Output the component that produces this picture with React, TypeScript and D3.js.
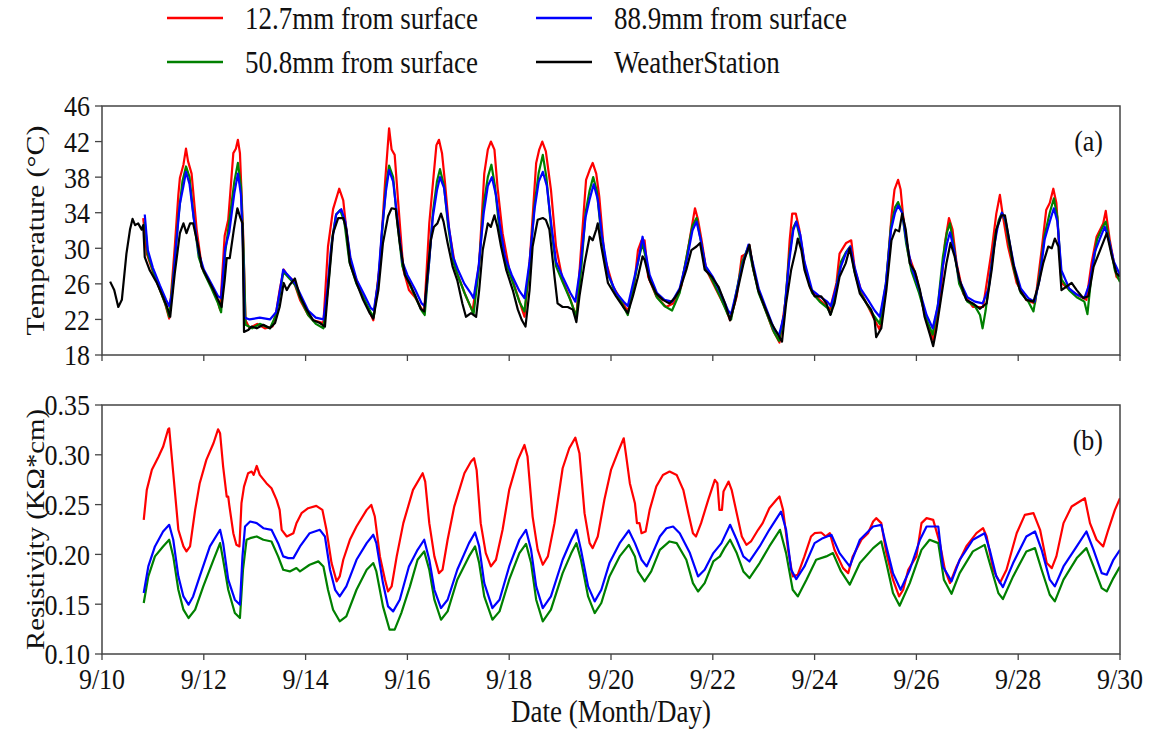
import React, { useEffect, useRef } from "react";
import * as d3 from "d3";

// day offsets from 9/10 00:00, values
const tempRed: [number, number][] = [
  [0.81,33.4],[0.88,29.4],[1.01,27.2],[1.14,25.3],[1.24,23.8],[1.32,22.1],[1.43,30.2],[1.5,36.0],[1.53,37.9],[1.6,39.4],[1.65,41.2],[1.69,39.8],[1.76,38.4],[1.86,32.1],[1.96,27.9],[2.12,26.1],[2.25,24.6],[2.32,23.1],[2.41,31.4],[2.48,33.2],[2.58,40.7],[2.63,41.2],[2.67,42.2],[2.71,40.7],[2.77,32.1],[2.82,21.9],[2.9,21.0],[3.05,21.5],[3.2,21.0],[3.35,21.2],[3.43,23.1],[3.49,25.3],[3.57,27.6],[3.66,26.8],[3.76,26.4],[3.89,24.2],[4.05,22.5],[4.15,21.9],[4.35,21.6],[4.44,30.2],[4.54,34.4],[4.66,36.7],[4.74,35.4],[4.8,32.1],[4.9,27.9],[5.13,24.6],[5.33,21.9],[5.46,28.3],[5.56,37.3],[5.64,43.5],[5.69,41.1],[5.75,40.5],[5.82,35.1],[5.92,27.6],[6.03,25.3],[6.15,24.5],[6.26,23.4],[6.33,22.7],[6.43,32.8],[6.49,36.6],[6.57,41.6],[6.62,42.2],[6.68,40.7],[6.74,37.3],[6.82,32.1],[6.95,27.6],[7.15,24.6],[7.28,22.9],[7.41,28.3],[7.51,38.4],[7.58,41.1],[7.64,42.0],[7.71,41.1],[7.77,36.9],[7.87,31.7],[8.0,27.6],[8.17,24.6],[8.3,22.3],[8.4,28.3],[8.53,39.6],[8.59,41.1],[8.65,42.0],[8.72,40.9],[8.82,36.6],[8.92,30.2],[9.05,26.4],[9.18,24.6],[9.32,22.3],[9.41,29.8],[9.51,37.7],[9.58,38.8],[9.64,39.6],[9.71,38.4],[9.77,35.8],[9.87,29.1],[10.04,25.7],[10.24,23.8],[10.33,22.9],[10.46,26.1],[10.53,29.8],[10.6,30.9],[10.66,30.9],[10.73,26.8],[10.89,24.6],[11.08,23.4],[11.22,23.8],[11.38,25.7],[11.51,29.8],[11.65,34.5],[11.71,33.2],[11.78,30.9],[11.87,27.6],[12.07,25.3],[12.24,23.4],[12.34,21.9],[12.47,24.6],[12.57,29.1],[12.66,29.4],[12.72,30.3],[12.8,27.5],[12.92,24.9],[13.18,20.8],[13.31,19.4],[13.44,24.6],[13.51,30.9],[13.56,33.9],[13.63,33.9],[13.7,32.1],[13.8,28.3],[13.93,25.3],[14.1,24.2],[14.3,23.1],[14.43,26.1],[14.49,29.4],[14.62,30.6],[14.72,30.9],[14.79,27.6],[14.95,24.6],[15.15,22.3],[15.28,20.8],[15.41,26.1],[15.51,33.6],[15.57,36.6],[15.64,37.7],[15.69,36.6],[15.74,33.6],[15.84,29.4],[16.0,26.8],[16.16,22.7],[16.33,19.7],[16.46,23.8],[16.56,30.6],[16.64,33.4],[16.71,32.1],[16.79,28.3],[16.92,24.9],[17.11,23.4],[17.31,23.4],[17.48,29.8],[17.57,33.9],[17.64,36.0],[17.7,33.6],[17.8,30.2],[17.97,26.1],[18.16,24.2],[18.33,23.8],[18.46,29.8],[18.55,34.3],[18.62,35.1],[18.69,36.7],[18.75,35.1],[18.85,26.1],[19.02,25.3],[19.21,24.6],[19.34,24.2],[19.44,28.3],[19.54,31.3],[19.67,32.8],[19.72,34.2],[19.8,30.9],[19.93,26.8],[20.0,26.4]
];

const tempGreen: [number, number][] = [
  [0.84,33.0],[0.9,29.3],[1.0,27.5],[1.14,25.3],[1.26,23.5],[1.32,22.3],[1.42,28.0],[1.5,33.5],[1.58,37.5],[1.65,39.2],[1.72,38.0],[1.8,33.5],[1.9,29.0],[2.0,27.3],[2.15,25.5],[2.28,23.8],[2.34,22.8],[2.42,29.5],[2.5,33.0],[2.6,37.5],[2.67,39.6],[2.73,37.0],[2.78,30.0],[2.82,21.4],[2.95,21.0],[3.1,21.5],[3.3,21.0],[3.42,22.5],[3.5,25.0],[3.56,27.3],[3.62,27.0],[3.7,26.5],[3.8,25.8],[3.9,24.3],[4.05,22.5],[4.2,21.5],[4.35,21.0],[4.44,25.5],[4.52,31.0],[4.6,33.8],[4.68,34.3],[4.76,33.0],[4.86,28.5],[5.0,26.0],[5.15,24.3],[5.28,22.8],[5.34,22.3],[5.44,27.0],[5.52,33.0],[5.58,37.0],[5.64,39.3],[5.72,38.0],[5.8,33.0],[5.9,28.0],[6.0,26.5],[6.15,24.6],[6.28,23.0],[6.34,22.5],[6.42,28.0],[6.5,34.0],[6.58,37.5],[6.64,38.9],[6.72,37.0],[6.8,32.5],[6.9,28.5],[7.0,26.8],[7.12,25.0],[7.25,23.3],[7.3,22.6],[7.4,27.5],[7.5,35.0],[7.58,38.0],[7.65,39.4],[7.72,37.0],[7.8,32.5],[7.92,28.5],[8.05,26.5],[8.2,24.0],[8.3,22.9],[8.4,28.0],[8.5,35.0],[8.58,38.5],[8.66,40.5],[8.73,38.0],[8.82,32.5],[8.92,28.0],[9.05,26.2],[9.2,24.2],[9.32,22.3],[9.42,28.0],[9.5,34.0],[9.58,36.5],[9.65,38.0],[9.72,36.5],[9.8,32.0],[9.92,27.5],[10.05,25.5],[10.2,24.0],[10.33,22.5],[10.45,26.0],[10.55,29.0],[10.62,30.5],[10.68,29.0],[10.76,26.5],[10.9,24.5],[11.05,23.5],[11.2,23.0],[11.35,25.0],[11.5,29.5],[11.6,32.5],[11.68,33.4],[11.76,31.0],[11.86,27.8],[12.0,26.3],[12.15,24.5],[12.3,22.5],[12.36,22.0],[12.46,25.0],[12.58,28.5],[12.7,30.2],[12.78,28.0],[12.9,25.0],[13.05,22.8],[13.2,20.6],[13.3,19.6],[13.4,22.5],[13.5,29.0],[13.58,32.3],[13.64,33.0],[13.72,31.0],[13.8,28.0],[13.95,25.0],[14.1,24.0],[14.25,23.3],[14.32,22.6],[14.42,25.5],[14.52,28.5],[14.62,29.6],[14.7,30.2],[14.78,27.5],[14.9,25.0],[15.05,23.5],[15.18,22.3],[15.28,21.5],[15.4,26.0],[15.5,32.5],[15.58,34.6],[15.64,35.2],[15.72,34.0],[15.8,30.5],[15.9,27.5],[16.05,25.0],[16.2,22.0],[16.32,20.3],[16.42,23.5],[16.52,29.0],[16.6,31.8],[16.66,32.8],[16.74,30.0],[16.84,26.0],[17.0,24.0],[17.15,23.5],[17.25,22.5],[17.3,21.0],[17.36,23.0],[17.45,27.0],[17.55,31.5],[17.62,33.2],[17.68,34.0],[17.75,33.0],[17.82,30.5],[17.92,27.5],[18.05,25.0],[18.2,24.0],[18.3,22.9],[18.42,27.0],[18.52,31.5],[18.62,34.0],[18.7,35.6],[18.77,33.5],[18.85,26.5],[19.0,25.3],[19.15,24.5],[19.3,24.0],[19.36,22.6],[19.44,27.0],[19.55,31.0],[19.65,32.3],[19.72,33.0],[19.8,30.5],[19.9,27.5],[20.0,26.2]
];

const tempBlue: [number, number][] = [
  [0.84,33.8],[0.9,29.8],[1.0,27.8],[1.14,25.8],[1.26,24.2],[1.32,23.5],[1.38,25.0],[1.45,30.0],[1.53,35.0],[1.6,37.0],[1.65,38.6],[1.72,37.2],[1.8,33.5],[1.9,29.5],[2.0,27.6],[2.15,26.0],[2.28,24.6],[2.34,24.4],[2.42,30.0],[2.5,31.8],[2.6,36.2],[2.67,38.4],[2.73,36.0],[2.77,30.0],[2.8,22.2],[2.9,22.0],[3.1,22.2],[3.3,22.0],[3.42,22.8],[3.5,25.4],[3.56,27.6],[3.62,27.2],[3.7,26.7],[3.8,26.0],[3.9,24.8],[4.05,23.0],[4.2,22.2],[4.35,22.0],[4.42,25.0],[4.5,30.0],[4.6,33.8],[4.7,34.4],[4.78,33.0],[4.88,29.0],[5.0,26.5],[5.15,24.8],[5.28,23.3],[5.34,23.0],[5.42,26.0],[5.5,32.0],[5.58,36.5],[5.64,38.8],[5.72,37.5],[5.8,33.5],[5.9,28.5],[6.0,27.0],[6.15,25.4],[6.28,23.8],[6.34,23.5],[6.42,28.0],[6.5,33.5],[6.58,36.5],[6.64,38.0],[6.72,36.8],[6.8,33.0],[6.9,29.0],[7.0,27.5],[7.12,26.0],[7.25,24.9],[7.3,24.4],[7.4,28.0],[7.5,34.0],[7.58,37.0],[7.66,38.0],[7.74,36.0],[7.82,32.5],[7.92,29.0],[8.05,27.0],[8.2,25.2],[8.3,24.4],[8.4,28.5],[8.5,34.5],[8.58,37.5],[8.66,38.6],[8.74,37.0],[8.82,33.0],[8.92,28.5],[9.05,26.8],[9.2,25.0],[9.3,24.0],[9.4,28.0],[9.5,33.5],[9.58,35.5],[9.66,37.2],[9.74,35.5],[9.82,31.5],[9.95,27.0],[10.1,25.0],[10.25,24.0],[10.33,23.5],[10.45,26.5],[10.55,29.0],[10.62,31.3],[10.68,29.5],[10.76,27.0],[10.9,25.0],[11.05,24.2],[11.2,24.0],[11.35,25.5],[11.5,29.0],[11.6,32.0],[11.68,33.0],[11.76,31.0],[11.86,28.0],[12.0,26.8],[12.15,25.0],[12.3,23.0],[12.36,22.6],[12.46,25.0],[12.58,28.0],[12.7,30.4],[12.78,28.5],[12.9,25.5],[13.05,23.2],[13.2,21.0],[13.3,20.2],[13.4,22.5],[13.5,28.5],[13.58,32.0],[13.64,33.0],[13.72,31.5],[13.8,28.5],[13.95,25.3],[14.1,24.6],[14.25,24.0],[14.32,23.5],[14.42,25.5],[14.52,28.0],[14.62,29.5],[14.7,30.2],[14.78,28.0],[14.9,25.5],[15.05,24.2],[15.18,23.0],[15.28,22.3],[15.4,26.0],[15.5,32.0],[15.58,34.0],[15.64,34.8],[15.72,34.0],[15.8,31.0],[15.9,28.0],[16.05,25.5],[16.2,22.5],[16.32,21.0],[16.42,23.5],[16.52,28.0],[16.6,30.5],[16.66,31.8],[16.74,29.8],[16.84,26.5],[17.0,24.5],[17.15,24.0],[17.3,23.8],[17.42,25.5],[17.52,30.0],[17.6,32.5],[17.68,34.0],[17.75,33.2],[17.82,31.0],[17.92,28.0],[18.05,25.5],[18.2,24.4],[18.32,24.0],[18.42,26.5],[18.52,31.0],[18.62,33.0],[18.7,34.5],[18.77,33.0],[18.85,27.5],[19.0,25.5],[19.15,24.8],[19.3,24.4],[19.4,26.0],[19.5,29.5],[19.6,31.0],[19.7,32.4],[19.78,31.0],[19.88,28.5],[20.0,27.0]
];

const tempWeather: [number, number][] = [
  [0.16,26.25],[0.24,25.3],[0.32,23.4],[0.39,24.2],[0.48,29.4],[0.55,32.1],[0.6,33.3],[0.65,32.6],[0.71,32.8],[0.78,32.1],[0.81,32.6],[0.84,29.0],[0.94,27.5],[1.07,26.2],[1.17,24.9],[1.28,23.4],[1.34,22.3],[1.43,27.2],[1.53,31.7],[1.6,32.8],[1.66,31.7],[1.73,32.8],[1.79,32.8],[1.89,30.2],[1.96,27.9],[2.09,26.4],[2.19,25.3],[2.28,24.2],[2.35,23.4],[2.41,26.4],[2.45,28.9],[2.51,28.9],[2.59,32.1],[2.66,34.5],[2.72,33.4],[2.76,32.8],[2.79,20.6],[2.87,20.8],[2.94,21.2],[3.04,21.0],[3.17,21.4],[3.3,21.0],[3.4,21.6],[3.49,23.4],[3.57,26.1],[3.63,25.3],[3.69,25.9],[3.79,26.6],[3.89,24.6],[4.02,23.1],[4.15,21.9],[4.28,21.6],[4.38,21.2],[4.44,25.3],[4.54,31.7],[4.64,33.4],[4.74,33.4],[4.8,32.1],[4.87,28.3],[5.0,26.1],[5.13,24.2],[5.26,22.7],[5.33,22.1],[5.43,25.3],[5.52,30.6],[5.62,33.6],[5.69,34.5],[5.77,34.4],[5.85,30.6],[5.95,27.0],[6.05,26.0],[6.16,24.6],[6.26,23.2],[6.33,22.9],[6.39,26.8],[6.46,30.9],[6.52,32.4],[6.59,32.8],[6.66,33.9],[6.71,33.0],[6.79,30.6],[6.89,27.9],[6.98,26.4],[7.08,23.8],[7.15,22.3],[7.25,22.7],[7.35,22.3],[7.41,25.3],[7.48,29.8],[7.58,32.8],[7.64,32.4],[7.71,33.7],[7.77,32.4],[7.84,30.2],[7.94,27.6],[8.07,25.3],[8.17,23.1],[8.25,21.9],[8.32,21.2],[8.4,25.3],[8.46,30.2],[8.56,33.2],[8.66,33.4],[8.72,33.2],[8.79,32.1],[8.89,26.8],[8.95,23.8],[9.05,23.4],[9.15,23.4],[9.25,23.1],[9.32,21.7],[9.38,24.6],[9.48,28.3],[9.58,31.3],[9.64,30.9],[9.71,32.1],[9.74,32.8],[9.81,30.2],[9.94,26.1],[10.1,24.6],[10.24,23.4],[10.33,22.7],[10.43,24.6],[10.53,26.8],[10.62,29.1],[10.66,28.7],[10.76,26.4],[10.89,24.9],[11.02,24.2],[11.15,23.8],[11.25,24.4],[11.35,25.3],[11.48,27.6],[11.58,29.8],[11.68,30.2],[11.75,30.6],[11.84,27.6],[11.98,26.8],[12.11,25.7],[12.24,23.8],[12.34,21.9],[12.43,23.8],[12.53,26.4],[12.62,28.7],[12.72,30.4],[12.79,27.9],[12.89,25.3],[13.02,23.4],[13.15,21.6],[13.28,20.3],[13.36,19.5],[13.44,23.8],[13.54,27.6],[13.63,29.8],[13.67,31.1],[13.74,29.8],[13.8,27.6],[13.9,25.7],[14.0,24.6],[14.13,24.6],[14.23,23.8],[14.31,22.5],[14.39,23.8],[14.49,26.8],[14.61,28.3],[14.69,30.0],[14.79,27.2],[14.89,24.9],[15.02,23.8],[15.11,23.1],[15.18,21.9],[15.21,20.0],[15.31,21.0],[15.41,25.3],[15.51,30.9],[15.59,32.1],[15.66,31.9],[15.72,33.9],[15.79,32.1],[15.87,28.3],[15.97,27.4],[16.07,25.3],[16.16,22.3],[16.26,20.4],[16.33,19.0],[16.39,20.8],[16.49,24.6],[16.59,28.3],[16.67,30.6],[16.75,29.1],[16.85,26.4],[16.98,24.2],[17.11,23.8],[17.25,23.2],[17.38,23.8],[17.48,27.6],[17.57,32.1],[17.67,33.7],[17.74,33.7],[17.8,31.7],[17.9,28.3],[18.03,25.3],[18.16,24.2],[18.3,24.0],[18.39,25.7],[18.49,28.3],[18.59,30.2],[18.66,30.0],[18.72,31.1],[18.79,30.2],[18.85,25.3],[18.95,25.7],[19.05,26.1],[19.15,25.3],[19.28,24.4],[19.38,24.6],[19.48,27.9],[19.61,29.8],[19.74,31.7],[19.84,29.1],[19.93,27.2],[20.0,26.8]
];

const resRed: [number, number][] = [
  [0.82,0.2347],[0.88,0.2648],[0.98,0.285],[1.11,0.298],[1.2,0.308],[1.3,0.3256],[1.32,0.3266],[1.4,0.2815],[1.5,0.2247],[1.6,0.208],[1.66,0.203],[1.73,0.208],[1.83,0.2447],[1.92,0.2715],[2.05,0.2949],[2.19,0.3116],[2.28,0.3256],[2.32,0.3216],[2.38,0.2882],[2.45,0.2581],[2.48,0.2581],[2.5,0.2497],[2.58,0.2213],[2.64,0.2096],[2.7,0.208],[2.74,0.2514],[2.79,0.2681],[2.87,0.2815],[2.94,0.2832],[2.98,0.2798],[3.04,0.2888],[3.1,0.2798],[3.23,0.2715],[3.33,0.2664],[3.43,0.2548],[3.49,0.2447],[3.53,0.2247],[3.63,0.218],[3.76,0.2213],[3.82,0.2313],[3.92,0.2414],[4.05,0.2464],[4.21,0.2487],[4.33,0.2447],[4.41,0.2247],[4.51,0.1913],[4.61,0.1729],[4.67,0.1779],[4.74,0.1946],[4.87,0.2146],[5.0,0.228],[5.2,0.2447],[5.29,0.2497],[5.36,0.238],[5.46,0.198],[5.56,0.1745],[5.62,0.1628],[5.69,0.1678],[5.79,0.198],[5.92,0.2314],[6.11,0.2648],[6.3,0.2815],[6.35,0.2731],[6.43,0.2314],[6.53,0.198],[6.62,0.1812],[6.69,0.1846],[6.79,0.2147],[6.92,0.248],[7.12,0.2815],[7.25,0.2932],[7.31,0.2965],[7.36,0.2848],[7.44,0.2314],[7.54,0.2013],[7.64,0.1879],[7.74,0.1946],[7.87,0.2247],[8.0,0.2648],[8.17,0.2949],[8.3,0.3099],[8.36,0.2982],[8.46,0.238],[8.56,0.2046],[8.66,0.1896],[8.76,0.198],[8.89,0.2314],[9.05,0.2865],[9.18,0.3066],[9.3,0.3172],[9.38,0.3016],[9.48,0.2414],[9.58,0.2113],[9.64,0.2063],[9.74,0.218],[9.87,0.2548],[10.0,0.2848],[10.14,0.3032],[10.25,0.3166],[10.3,0.2982],[10.37,0.2715],[10.47,0.2514],[10.51,0.2314],[10.56,0.2314],[10.6,0.2213],[10.68,0.223],[10.76,0.2447],[10.89,0.2681],[11.02,0.2798],[11.15,0.2832],[11.29,0.2798],[11.42,0.2648],[11.52,0.2414],[11.61,0.2213],[11.67,0.218],[11.77,0.2314],[11.91,0.2548],[12.04,0.2748],[12.09,0.2715],[12.13,0.2447],[12.18,0.2447],[12.21,0.2631],[12.31,0.2731],[12.37,0.2648],[12.47,0.2414],[12.57,0.218],[12.66,0.2096],[12.75,0.213],[12.89,0.2247],[12.98,0.2314],[13.11,0.2464],[13.25,0.2548],[13.31,0.2581],[13.38,0.2447],[13.48,0.2046],[13.57,0.1779],[13.67,0.1796],[13.8,0.198],[13.93,0.218],[14.0,0.2213],[14.13,0.222],[14.22,0.218],[14.3,0.2213],[14.39,0.2046],[14.56,0.1862],[14.66,0.1812],[14.75,0.198],[14.92,0.2147],[15.05,0.2213],[15.15,0.233],[15.21,0.2364],[15.31,0.2314],[15.41,0.2013],[15.54,0.1746],[15.66,0.1578],[15.74,0.1645],[15.84,0.1846],[16.0,0.198],[16.1,0.2314],[16.2,0.2364],[16.33,0.2347],[16.46,0.2113],[16.56,0.1846],[16.66,0.1712],[16.79,0.1879],[16.98,0.208],[17.18,0.2213],[17.31,0.2263],[17.38,0.218],[17.51,0.1846],[17.64,0.1712],[17.77,0.1846],[17.97,0.2213],[18.13,0.2397],[18.3,0.2414],[18.43,0.2247],[18.56,0.1913],[18.66,0.1862],[18.75,0.198],[18.89,0.2314],[19.05,0.2481],[19.31,0.2564],[19.41,0.2314],[19.54,0.2147],[19.67,0.208],[19.77,0.2247],[19.9,0.2447],[20.0,0.2564]
];

const resGreen: [number, number][] = [
  [0.82,0.1512],[0.91,0.178],[1.04,0.198],[1.2,0.208],[1.32,0.2147],[1.4,0.198],[1.5,0.1645],[1.6,0.1445],[1.7,0.1361],[1.83,0.1445],[1.99,0.1679],[2.19,0.1946],[2.32,0.2113],[2.38,0.1946],[2.48,0.1645],[2.61,0.1411],[2.71,0.1361],[2.77,0.1846],[2.84,0.2147],[2.91,0.2163],[3.04,0.218],[3.17,0.2147],[3.33,0.213],[3.46,0.198],[3.56,0.1846],[3.69,0.1829],[3.82,0.1863],[3.89,0.1829],[4.08,0.1896],[4.25,0.193],[4.35,0.1879],[4.44,0.1645],[4.54,0.1445],[4.67,0.1328],[4.8,0.1378],[5.0,0.1645],[5.2,0.1846],[5.33,0.1913],[5.39,0.1829],[5.52,0.1478],[5.65,0.1244],[5.75,0.1244],[5.88,0.1411],[6.05,0.1679],[6.2,0.1946],[6.33,0.203],[6.43,0.1846],[6.53,0.1545],[6.66,0.1344],[6.79,0.1428],[6.98,0.1746],[7.21,0.198],[7.33,0.208],[7.41,0.1913],[7.51,0.1578],[7.67,0.1344],[7.81,0.1428],[8.0,0.1746],[8.2,0.2013],[8.33,0.2106],[8.43,0.1913],[8.53,0.1545],[8.66,0.1328],[8.82,0.1445],[9.05,0.1812],[9.22,0.2013],[9.32,0.2113],[9.41,0.1946],[9.55,0.1578],[9.68,0.1411],[9.81,0.1512],[9.97,0.1779],[10.17,0.198],[10.35,0.2096],[10.47,0.198],[10.53,0.1829],[10.66,0.1729],[10.79,0.1829],[10.96,0.2046],[11.15,0.213],[11.29,0.2113],[11.48,0.1946],[11.61,0.1712],[11.71,0.1628],[11.84,0.1712],[12.01,0.1929],[12.14,0.198],[12.23,0.2063],[12.34,0.2147],[12.47,0.2013],[12.6,0.1829],[12.72,0.1762],[12.92,0.1913],[13.11,0.208],[13.32,0.2247],[13.44,0.2013],[13.57,0.1645],[13.67,0.1578],[13.84,0.1746],[14.03,0.1946],[14.23,0.198],[14.36,0.2013],[14.52,0.1829],[14.69,0.1696],[14.89,0.1913],[15.15,0.2063],[15.31,0.213],[15.41,0.1913],[15.54,0.1612],[15.67,0.1485],[15.87,0.1712],[16.1,0.2046],[16.26,0.2147],[16.43,0.2113],[16.54,0.1746],[16.69,0.1605],[16.85,0.1812],[17.11,0.203],[17.34,0.2096],[17.44,0.1913],[17.61,0.1612],[17.7,0.1552],[17.9,0.1779],[18.16,0.203],[18.33,0.2063],[18.46,0.1846],[18.62,0.1595],[18.72,0.1528],[18.89,0.1746],[19.15,0.1963],[19.34,0.2063],[19.48,0.1879],[19.64,0.1662],[19.74,0.1628],[19.87,0.1762],[20.0,0.1879]
];

const resBlue: [number, number][] = [
  [0.82,0.1612],[0.91,0.1879],[1.04,0.208],[1.2,0.223],[1.32,0.2297],[1.4,0.2147],[1.5,0.178],[1.6,0.1578],[1.7,0.1495],[1.79,0.1578],[1.92,0.178],[2.12,0.208],[2.32,0.2247],[2.38,0.2113],[2.48,0.1746],[2.61,0.1545],[2.71,0.1495],[2.76,0.198],[2.81,0.228],[2.91,0.233],[3.04,0.2314],[3.17,0.2263],[3.33,0.2247],[3.46,0.2113],[3.56,0.198],[3.66,0.1963],[3.76,0.1963],[3.89,0.208],[4.08,0.2213],[4.28,0.2247],[4.38,0.218],[4.48,0.1846],[4.58,0.1645],[4.67,0.1578],[4.8,0.1679],[5.0,0.1946],[5.2,0.2113],[5.33,0.2197],[5.39,0.2113],[5.52,0.1712],[5.62,0.1478],[5.72,0.1428],[5.85,0.1545],[6.03,0.1879],[6.2,0.2046],[6.33,0.2147],[6.43,0.1946],[6.53,0.1645],[6.66,0.1461],[6.79,0.1545],[6.98,0.1846],[7.21,0.2113],[7.33,0.222],[7.41,0.208],[7.51,0.1712],[7.67,0.1461],[7.81,0.1545],[8.0,0.1879],[8.2,0.2147],[8.33,0.2247],[8.43,0.2046],[8.53,0.1679],[8.66,0.1461],[8.82,0.1578],[9.05,0.1946],[9.22,0.2147],[9.32,0.2247],[9.41,0.2046],[9.55,0.1679],[9.68,0.1528],[9.81,0.1645],[9.97,0.1913],[10.17,0.2113],[10.35,0.224],[10.47,0.2113],[10.6,0.1946],[10.7,0.1879],[10.79,0.198],[10.96,0.218],[11.09,0.2263],[11.22,0.228],[11.35,0.2213],[11.55,0.2013],[11.71,0.1779],[11.84,0.1846],[12.01,0.2013],[12.17,0.2113],[12.34,0.2297],[12.47,0.2147],[12.6,0.198],[12.72,0.1929],[12.92,0.208],[13.11,0.2247],[13.34,0.243],[13.44,0.2247],[13.54,0.1846],[13.64,0.1752],[13.8,0.1879],[14.0,0.2113],[14.16,0.2163],[14.33,0.2197],[14.49,0.2013],[14.69,0.1879],[14.89,0.2147],[15.15,0.228],[15.31,0.2297],[15.41,0.208],[15.54,0.1812],[15.69,0.1645],[15.87,0.1846],[16.07,0.2147],[16.2,0.228],[16.43,0.228],[16.52,0.1879],[16.69,0.1729],[16.85,0.1946],[17.11,0.2147],[17.34,0.2213],[17.44,0.2046],[17.57,0.1779],[17.7,0.1672],[17.9,0.1913],[18.16,0.218],[18.33,0.223],[18.46,0.2046],[18.62,0.1746],[18.72,0.1679],[18.89,0.1879],[19.15,0.208],[19.34,0.223],[19.48,0.2046],[19.64,0.1812],[19.74,0.1796],[19.87,0.1946],[20.0,0.2046]
];

const xTickDays = [0, 2, 4, 6, 8, 10, 12, 14, 16, 18, 20];
const xTickLabels = ["9/10", "9/12", "9/14", "9/16", "9/18", "9/20", "9/22", "9/24", "9/26", "9/28", "9/30"];
const tempTicks = [18, 22, 26, 30, 34, 38, 42, 46];
const resTicks = [0.10, 0.15, 0.20, 0.25, 0.30, 0.35];

const legendItems = [
  { label: "12.7mm from surface", color: "#ff0000", col: 0, row: 0 },
  { label: "50.8mm from surface", color: "#008000", col: 0, row: 1 },
  { label: "88.9mm from surface", color: "#0000ff", col: 1, row: 0 },
  { label: "WeatherStation", color: "#000000", col: 1, row: 1 },
];

const FONT = "'Liberation Serif', 'Times New Roman', serif";
const VSTRETCH = 1.15;

export default function App() {
  const ref = useRef<SVGSVGElement | null>(null);

  useEffect(() => {
    const svg = d3.select(ref.current);
    svg.selectAll("*").remove();

    const left = 102, right = 1120;
    const x = d3.scaleLinear().domain([0, 20]).range([left, right]);
    const yT = d3.scaleLinear().domain([18, 46]).range([355, 106]);
    const yR = d3.scaleLinear().domain([0.10, 0.35]).range([654, 405]);

    const frameColor = "#444";

    const addText = (
      parent: d3.Selection<any, unknown, null, undefined>,
      tx: number, ty: number, str: string, size: number,
      anchor: string, baselineShift: string | null, rotate = 0
    ) => {
      const g = parent.append("g")
        .attr("transform", `translate(${tx},${ty}) scale(1,${VSTRETCH})${rotate ? ` rotate(${rotate})` : ""}`);
      const t = g.append("text").attr("x", 0).attr("y", 0)
        .attr("text-anchor", anchor).attr("font-family", FONT).attr("font-size", size).attr("fill", "#111")
        .text(str);
      if (baselineShift) t.attr("dy", baselineShift);
      return t;
    };

    const drawPanel = (
      y: d3.ScaleLinear<number, number>,
      ticks: number[],
      fmt: (v: number) => string,
      series: { data: [number, number][]; color: string }[],
      showXLabels: boolean,
      tag: string
    ) => {
      const [yb, yt] = y.range();
      const g = svg.append("g");
      const clipId = "clip" + tag.replace(/[()]/g, "");
      svg.append("clipPath").attr("id", clipId)
        .append("rect").attr("x", left).attr("y", yt).attr("width", right - left).attr("height", yb - yt);

      const line = d3.line<[number, number]>().x(d => x(d[0])).y(d => y(d[1]));
      const lg = g.append("g").attr("clip-path", `url(#${clipId})`);
      series.forEach(s => {
        lg.append("path").attr("d", line(s.data) as string)
          .attr("fill", "none").attr("stroke", s.color).attr("stroke-width", 2.2)
          .attr("stroke-linejoin", "round");
      });

      g.append("rect").attr("x", left).attr("y", yt).attr("width", right - left).attr("height", yb - yt)
        .attr("fill", "none").attr("stroke", frameColor).attr("stroke-width", 1.5);

      ticks.forEach(v => {
        g.append("line").attr("x1", left - 7).attr("x2", left).attr("y1", y(v)).attr("y2", y(v))
          .attr("stroke", frameColor).attr("stroke-width", 1.3);
        addText(g, left - 12, y(v), fmt(v), 26, "end", "0.35em");
      });
      xTickDays.forEach((d, i) => {
        g.append("line").attr("x1", x(d)).attr("x2", x(d)).attr("y1", yb).attr("y2", yb + 6)
          .attr("stroke", frameColor).attr("stroke-width", 1.3);
        if (showXLabels) {
          addText(g, x(d), yb + 35, xTickLabels[i], 26, "middle", null);
        }
      });
      addText(g, 1103, yt + 45, tag, 26, "end", null);
    };

    drawPanel(yT, tempTicks, v => String(v), [
      { data: tempRed, color: "#ff0000" },
      { data: tempGreen, color: "#008000" },
      { data: tempBlue, color: "#0000ff" },
      { data: tempWeather, color: "#000000" },
    ], false, "(a)");

    drawPanel(yR, resTicks, v => v.toFixed(2), [
      { data: resRed, color: "#ff0000" },
      { data: resGreen, color: "#008000" },
      { data: resBlue, color: "#0000ff" },
    ], true, "(b)");

    addText(svg as any, 44, (106 + 355) / 2, "Temperature (°C)", 26, "middle", null, -90);
    addText(svg as any, 44, (405 + 654) / 2, "Resistivity (KΩ*cm)", 25, "middle", null, -90);
    addText(svg as any, (left + right) / 2, 722, "Date (Month/Day)", 27, "middle", null);

    const colX = [167, 536];
    const rowY = [18, 62];
    legendItems.forEach(it => {
      const lx = colX[it.col], ly = rowY[it.row];
      svg.append("line").attr("x1", lx).attr("x2", lx + 56).attr("y1", ly).attr("y2", ly)
        .attr("stroke", it.color).attr("stroke-width", 2.5);
      addText(svg as any, lx + 78, ly, it.label, 27, "start", "0.35em");
    });
  }, []);

  return (
    <svg ref={ref} width={1155} height={730}
      style={{ position: "absolute", left: 0, top: 0, background: "#fff" }} />
  );
}
